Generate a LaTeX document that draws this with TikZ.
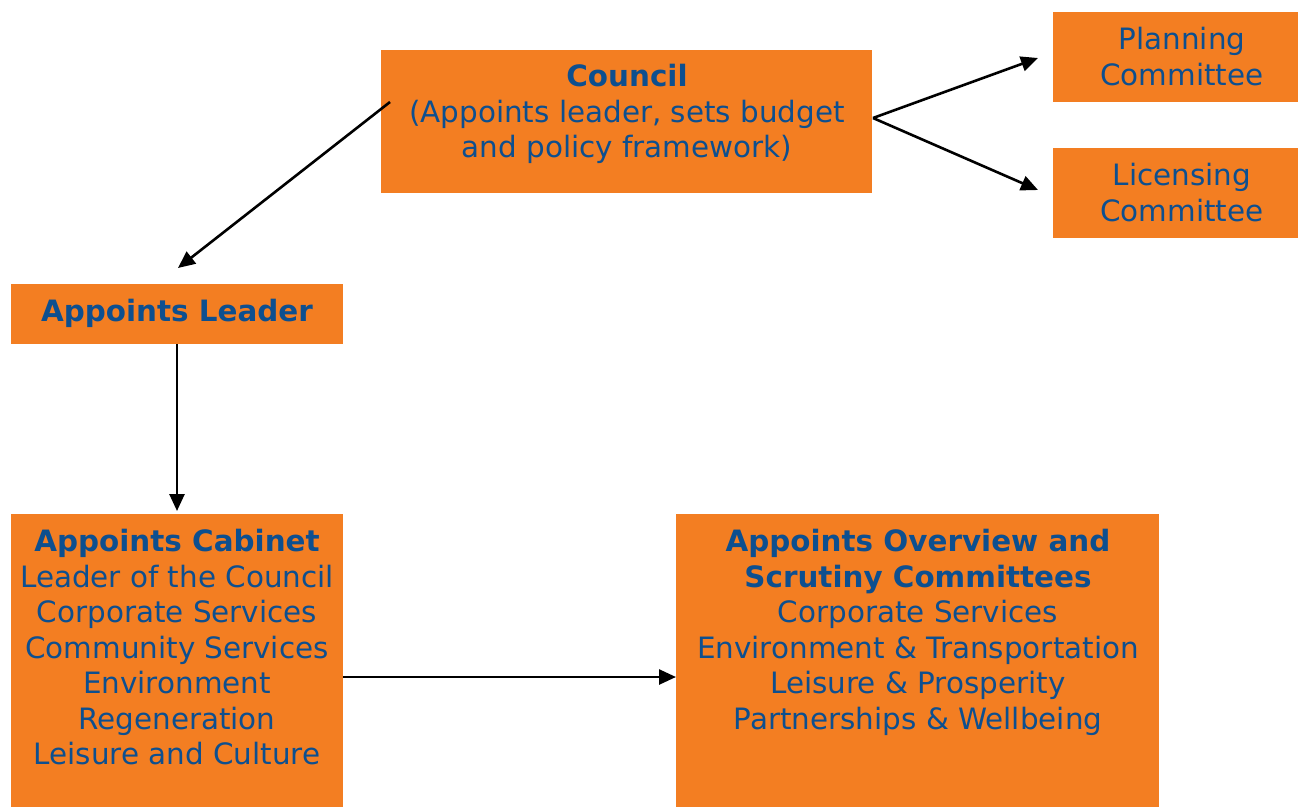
\documentclass[tikz,border=0pt]{standalone}
\usepackage{fontspec}
\setmainfont{DejaVu Sans}
\usetikzlibrary{arrows.meta}
\definecolor{boxorange}{HTML}{F37E22}
\definecolor{txtblue}{HTML}{0D4F8F}
\begin{document}
\begin{tikzpicture}[x=1pt,y=-1pt,
  box/.style={fill=boxorange, draw=none, inner sep=0pt, outer sep=0pt, anchor=north west},
  lbl/.style={text=txtblue, font=\fontsize{29.4}{35.5}\selectfont, align=center, anchor=base, inner sep=0pt},
  conn/.style={line width=2.6pt, -{Triangle[length=17pt,width=15pt]}}]
\useasboundingbox (0,0) rectangle (1298,809);
% boxes
\node[box, minimum width=491pt, minimum height=143pt] (council) at (381,50) {};
\node[box, minimum width=245pt, minimum height=90pt] (planning) at (1053,12) {};
\node[box, minimum width=245pt, minimum height=90pt] (licensing) at (1053,148) {};
\node[box, minimum width=332pt, minimum height=60pt] (leader) at (11,284) {};
\node[box, minimum width=332pt, minimum height=293pt] (cabinet) at (11,514) {};
\node[box, minimum width=483pt, minimum height=293pt] (overview) at (676,514) {};
% texts (anchor base = baseline of the last line)
\node[lbl] (tcouncil) at (627,157.7) {\textbf{Council}\\(Appoints leader, sets budget\\and policy framework)};
\node[lbl] (tplan) at (1182,85) {Planning\\Committee};
\node[lbl] (tlic) at (1182,221) {Licensing\\Committee};
\node[lbl] (tleader) at (177,321.5) {\textbf{Appoints Leader}};
\node[lbl] (tcab) at (177,764.5) {\textbf{Appoints Cabinet}\\Leader of the Council\\Corporate Services\\Community Services\\Environment\\Regeneration\\Leisure and Culture};
\node[lbl] (tov) at (918,729) {\textbf{Appoints Overview and}\\\textbf{Scrutiny Committees}\\Corporate Services\\Environment \& Transportation\\Leisure \& Prosperity\\Partnerships \& Wellbeing};
% connector ends
\coordinate (cwest) at (390,102);
\coordinate (ceast) at (873,118);
\coordinate (leadtip) at (178,268);
\coordinate (plantip) at (1038,58);
\coordinate (lictip) at (1038,190);
\coordinate (cabtip) at (177,511);
\coordinate (cabout) at (343,677);
\coordinate (ovin) at (676,677);
% connectors
\draw[conn] (cwest) -- (leadtip);
\draw[conn] (ceast) -- (plantip);
\draw[conn] (ceast) -- (lictip);
\draw[conn] (leader.south) -- (cabtip);
\draw[conn] (cabout) -- (ovin);
\end{tikzpicture}
\end{document}
